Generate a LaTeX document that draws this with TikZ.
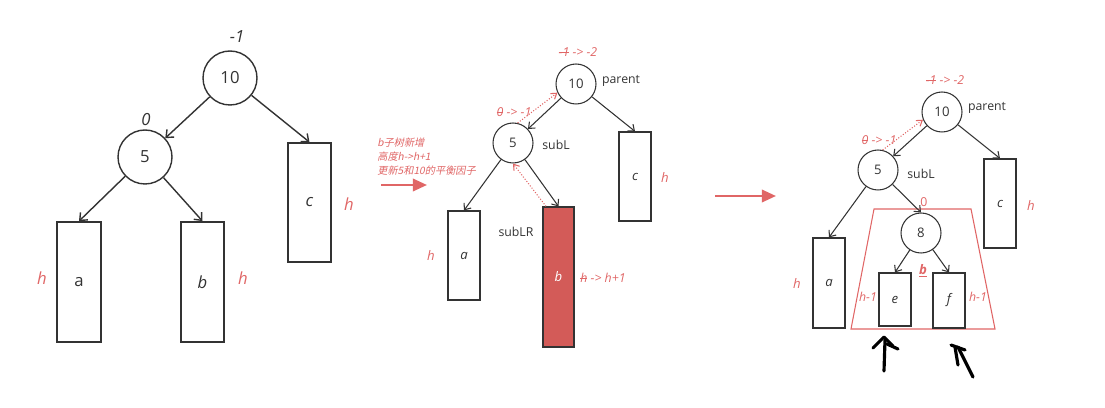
\documentclass[tikz,border=0pt]{standalone}
\usepackage{fontspec}
\setmainfont{Open Sans}
\newfontfamily\cjk[FakeSlant=0.2]{Noto Sans CJK SC}
\usetikzlibrary{arrows.meta}
\definecolor{ink}{HTML}{333333}
\definecolor{salmon}{HTML}{E06666}
\definecolor{bred}{HTML}{D35B58}
\newsavebox\strikebox
\newcommand\strike[1]{\sbox\strikebox{#1}\rlap{\rule[0.28em]{\wd\strikebox}{0.45pt}}\usebox\strikebox}

\begin{document}
\begin{tikzpicture}[
    x=0.02cm, y=-0.02cm,
    bigcirc/.style={circle, draw=ink, line width=0.8pt, minimum size=1.08cm, inner sep=0pt, text=ink, font=\fontsize{9.5}{11}\selectfont},
    bigbox/.style={rectangle, draw=ink, line width=1pt, inner sep=0pt, text=ink, font=\fontsize{9.5}{11}\selectfont},
    circ/.style={circle, draw=ink, line width=0.6pt, minimum size=0.8cm, inner sep=0pt, text=ink, font=\fontsize{7.5}{9}\selectfont},
    tbox/.style={rectangle, draw=ink, line width=0.7pt, inner sep=0pt, text=ink, font=\fontsize{7.5}{9}\selectfont\itshape},
    tag/.style={text=ink, inner sep=1pt, font=\fontsize{7}{8.5}\selectfont},
    red/.style={text=salmon, inner sep=1pt, font=\fontsize{7}{8}\selectfont\itshape},
    bigred/.style={text=salmon, inner sep=1pt, font=\fontsize{9.5}{11}\selectfont\itshape},
    arr/.style={-{Straight Barb[length=3pt, width=5pt]}, draw=ink, line width=0.6pt},
    bigarr/.style={-{Straight Barb[length=3.5pt, width=6pt]}, draw=ink, line width=0.8pt},
    trace/.style={-{Straight Barb[length=3pt, width=4pt]}, draw=salmon, densely dotted, line width=0.6pt},
    step arrow/.style={-{Triangle[length=8pt, width=7pt]}, draw=salmon, line width=1.4pt},
    scribble/.style={draw=black, line width=1.8pt, line cap=round, line join=round}
]
    \useasboundingbox (0,0) rectangle (1105,408);

    % tree before the insertion
    \node[bigcirc] (t1n10) at (230,78) {10};
    \node[bigcirc] (t1n5) at (145,157) {5};
    \node[bigbox, minimum width=0.88cm, minimum height=2.4cm] (t1a) at (79,282) {a};
    \node[bigbox, minimum width=0.86cm, minimum height=2.4cm] (t1b) at (202.5,282) {\itshape b};
    \node[bigbox, minimum width=0.86cm, minimum height=2.38cm] (t1c) at (309.5,202.5) {\itshape c};

    \node[text=ink, font=\fontsize{9.5}{11}\selectfont\itshape] (t1f10) at (237,37) {-1};
    \node[text=ink, font=\fontsize{9.5}{11}\selectfont\itshape] (t1f5) at (146,120) {0};
    \node[bigred] (t1ha) at (42,278) {h};
    \node[bigred] (t1hb) at (243,278) {h};
    \node[bigred] (t1hc) at (349,204) {h};

    \draw[bigarr] (t1n10) -- (t1n5);
    \draw[bigarr] (t1n10) -- (t1c.north);
    \draw[bigarr] (t1n5) -- (t1a.north);
    \draw[bigarr] (t1n5) -- (t1b.north);

    % step 1
    \node[anchor=west, align=left, text=salmon, inner sep=0pt, font=\cjk\fontsize{5.8}{8}\selectfont] (note) at (377,157) {b子树新增\\高度h->h+1\\更新5和10的平衡因子};
    \coordinate (s1a) at (381,185);
    \coordinate (s1b) at (427,185);
    \draw[step arrow] (s1a) -- (s1b);

    % tree after b grows
    \node[circ] (t2n10) at (576,84) {10};
    \node[circ] (t2n5) at (513,143) {5};
    \node[tbox, minimum width=0.64cm, minimum height=1.78cm] (t2a) at (464,255.5) {a};
    \node[tbox, fill=bred, text=white, minimum width=0.62cm, minimum height=2.8cm] (t2b) at (558.5,277) {b};
    \node[tbox, minimum width=0.64cm, minimum height=1.78cm] (t2c) at (635,176.5) {c};

    \node[red] (t2f10) at (578,52) {\strike{-1} -> -2};
    \node[red] (t2f5) at (514,112) {\strike{0} -> -1};
    \node[tag, anchor=west] (t2par) at (600,81) {parent};
    \node[tag] (t2subl) at (556,145) {subL};
    \node[tag] (t2sublr) at (516,232) {subLR};
    \node[red, font=\fontsize{7.5}{9}\selectfont\itshape] (t2ha) at (431,255) {h};
    \node[red] (t2hb) at (603,278) {\strike{h} -> h+1};
    \node[red, font=\fontsize{7.5}{9}\selectfont\itshape] (t2hc) at (665,177) {h};

    \draw[arr] (t2n10) -- (t2n5);
    \draw[arr] (t2n10) -- (t2c.north);
    \draw[arr] (t2n5) -- (t2a.north);
    \draw[arr] (t2n5) -- (t2b.north);
    \draw[trace] (t2n5.77) -- (t2n10.205);
    \draw[trace] (t2b.100) -- (t2n5.south);

    % step 2
    \coordinate (s2a) at (715,196);
    \coordinate (s2b) at (776,196);
    \draw[step arrow] (s2a) -- (s2b);

    % b split into 8, e, f
    \draw[salmon, line width=0.6pt] (874,209) -- (971,209) -- (995,329) -- (851,329) -- cycle;

    \node[circ] (t3n10) at (942,112) {10};
    \node[circ] (t3n5) at (878,170) {5};
    \node[circ] (t3n8) at (921,233) {8};
    \node[tbox, minimum width=0.64cm, minimum height=1.8cm] (t3a) at (829,283) {a};
    \node[tbox, minimum width=0.64cm, minimum height=1.78cm] (t3c) at (1000,203.5) {c};
    \node[tbox, minimum width=0.64cm, minimum height=1.06cm] (t3e) at (895,299.5) {e};
    \node[tbox, minimum width=0.64cm, minimum height=1.1cm] (t3f) at (949,300.5) {f};

    \node[red] (t3f10) at (945,80) {\strike{-1} -> -2};
    \node[red] (t3f5) at (879,140) {\strike{0} -> -1};
    \node[red, font=\fontsize{7}{8}\selectfont] (t3f8) at (924,202) {0};
    \node[tag, anchor=west] (t3par) at (966,108) {parent};
    \node[tag] (t3subl) at (921,174) {subL};
    \node[red, font=\fontsize{7.5}{9}\selectfont\bfseries\itshape] (t3b) at (923,271) {\underline{b}};
    \node[red] (t3he) at (868,297) {h-1};
    \node[red] (t3hf) at (978,297) {h-1};
    \node[red, font=\fontsize{7.5}{9}\selectfont\itshape] (t3ha) at (797,283) {h};
    \node[red, font=\fontsize{7.5}{9}\selectfont\itshape] (t3hc) at (1031,205) {h};

    \draw[arr] (t3n10) -- (t3n5);
    \draw[arr] (t3n10) -- (t3c.north);
    \draw[arr] (t3n5) -- (t3a.north);
    \draw[arr] (t3n5) -- (t3n8.north);
    \draw[arr] (t3n8) -- (t3e.north);
    \draw[arr] (t3n8) -- (t3f.north);
    \draw[trace] (t3n5.77) -- (t3n10.202);

    % hand marks
    \draw[scribble] (884,371) -- (885,340);
    \draw[scribble] (873,348) -- (884,337) -- (893,346);
    \draw[scribble] (887,344) -- (898,349);
    \draw[scribble] (955,347) -- (958,365);
    \draw[scribble] (958,347) -- (973,377);
    \draw[scribble] (951,345) -- (965,350);
\end{tikzpicture}
\end{document}
